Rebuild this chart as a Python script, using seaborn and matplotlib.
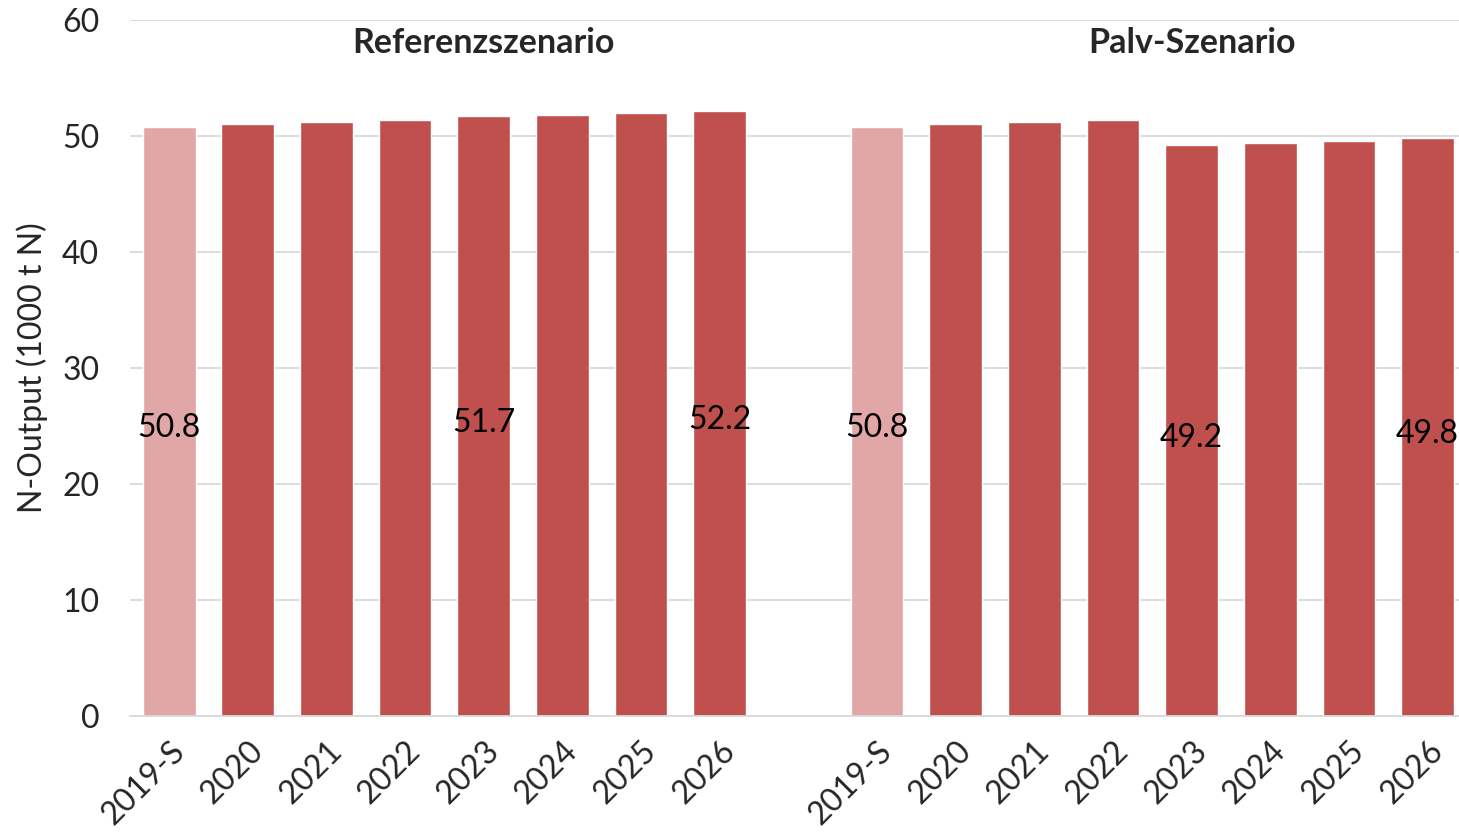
import pandas as pd
import seaborn as sns
import matplotlib.pyplot as plt

sns.set_style("white")
plt.rcParams['font.family'] = ['Lato', 'DejaVu Sans']

years = ['2019-S', '2020', '2021', '2022', '2023', '2024', '2025', '2026']
ref_values = [50.8, 51.0, 51.2, 51.4, 51.7, 51.8, 52.0, 52.2]
palv_values = [50.8, 51.0, 51.2, 51.4, 49.2, 49.4, 49.6, 49.8]
scenarios = ['Referenzszenario', 'Palv-Szenario']
labelled_years = ['2019-S', '2023', '2026']

rows = []
for scen, vals in zip(scenarios, [ref_values, palv_values]):
    for y, v in zip(years, vals):
        rows.append({'key': scen + ' ' + y, 'year': y, 'scenario': scen, 'value': v,
                     'typ': 'start' if y == '2019-S' else 'proj'})
df = pd.DataFrame(rows)

order = [scenarios[0] + ' ' + y for y in years] + ['gap'] + [scenarios[1] + ' ' + y for y in years]
palette = {'start': '#E0A7A6', 'proj': '#C0504D'}

fig = plt.figure(figsize=(14.59, 8.36), dpi=100)
ax = fig.add_axes([0.089, 0.1435, 0.911, 0.8325])
ax.set_axisbelow(True)
ax.yaxis.grid(True, color='#D9D9D9', linewidth=1.3)

sns.barplot(data=df, x='key', y='value', hue='typ', order=order, palette=palette,
            width=0.67, dodge=False, legend=False, saturation=1, ax=ax)

for i, key in enumerate(order):
    r = df[df['key'] == key]
    if len(r) and r['year'].iloc[0] in labelled_years:
        v = r['value'].iloc[0]
        ax.text(i, v / 2 - 0.6, f'{v:.1f}', ha='center', va='center', fontsize=23, color='black')

ax.text(4, 58, scenarios[0], ha='center', va='center', fontsize=24.5, fontweight='bold')
ax.text(13, 58, scenarios[1], ha='center', va='center', fontsize=24.5, fontweight='bold')

ax.set_ylim(0, 60)
ax.set_yticks(range(0, 61, 10))
ax.set_xlim(-0.5, 16.4)
ax.set_xticks(list(range(8)) + list(range(9, 17)))
ax.set_xticklabels(years + years, rotation=45, ha='right', rotation_mode='anchor')
ax.tick_params(axis='x', labelsize=23, length=0, pad=14)
ax.tick_params(axis='y', labelsize=23, length=0, pad=22)
ax.set_xlabel('')
ax.set_ylabel('N-Output (1000 t N)', fontsize=23, labelpad=10)

for s in ['top', 'right', 'left']:
    ax.spines[s].set_visible(False)
ax.spines['bottom'].set_color('#D9D9D9')
ax.spines['bottom'].set_linewidth(1.3)

fig.savefig('out.png', dpi=100)
